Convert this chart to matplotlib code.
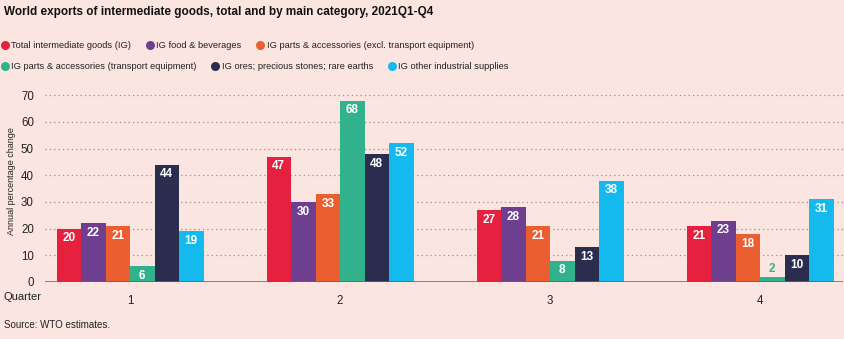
import numpy as np
import matplotlib.pyplot as plt
from matplotlib.lines import Line2D

# Data
quarters = ['1', '2', '3', '4']
series_names = [
    'Total intermediate goods (IG)',
    'IG food & beverages',
    'IG parts & accessories (excl. transport equipment)',
    'IG parts & accessories (transport equipment)',
    'IG ores; precious stones; rare earths',
    'IG other industrial supplies',
]
total_ig = [20, 47, 27, 21]
food_bev = [22, 30, 28, 23]
parts_excl = [21, 33, 21, 18]
parts_transport = [6, 68, 8, 2]
ores = [44, 48, 13, 10]
other_supplies = [19, 52, 38, 31]

colors = ['#E6213F', '#6E3F8F', '#EB5E30', '#32B18D', '#2B2D4F', '#14B9EE']
bg = '#FBE5E0'

plt.rcParams['font.family'] = ['Liberation Sans', 'DejaVu Sans']

fig = plt.figure(figsize=(8.45, 3.39), dpi=100, facecolor=bg)
ax = fig.add_axes([45 / 845, 1 - 282 / 339, 798 / 845, 188 / 339], facecolor=bg)

all_series = [total_ig, food_bev, parts_excl, parts_transport, ores, other_supplies]
x = np.arange(len(quarters))
n = len(all_series)
width = 0.7 / n

for i, (vals, col) in enumerate(zip(all_series, colors)):
    pos = x + (i - (n - 1) / 2) * width
    ax.bar(pos, vals, width=width, color=col, zorder=3)
    for px, v in zip(pos, vals):
        if v >= 5:
            ax.annotate(f'{v}', (px, v), xytext=(0, -7), textcoords='offset points',
                        ha='center', va='center', color='white', fontsize=8.5,
                        fontweight='bold', zorder=4)
        else:
            ax.annotate(f'{v}', (px, v), xytext=(0, 5.5), textcoords='offset points',
                        ha='center', va='center', color=col, fontsize=8.5,
                        fontweight='bold', zorder=4)

ax.set_xlim(-0.405, 3.395)
ax.set_ylim(0, 70.5)
ax.set_yticks(range(0, 71, 10))
ax.set_xticks(x)
ax.set_xticklabels(quarters)
ax.tick_params(axis='both', length=0, labelsize=8.3, colors='#222222')
ax.tick_params(axis='x', pad=9)
ax.tick_params(axis='y', pad=8)
ax.grid(axis='y', linestyle=(0, (1, 2.5)), color='#9A8F8C', linewidth=0.9, zorder=1)
ax.axhline(0, color='#6B5F5C', linewidth=1.8, zorder=5)
for s in ax.spines.values():
    s.set_visible(False)

fig.text(12 / 845, 1 - 181 / 339, 'Annual percentage change', rotation=90,
         ha='center', va='center', fontsize=6.5, color='#222222')
fig.text(4 / 845, 1 - 297 / 339, 'Quarter', ha='left', va='center', fontsize=8, color='#222222')
fig.text(4 / 845, 1 - 325 / 339, 'Source: WTO estimates.', ha='left', va='center',
         fontsize=7, color='#222222')
fig.text(4 / 845, 1 - 12 / 339, 'World exports of intermediate goods, total and by main category, 2021Q1-Q4',
         ha='left', va='center', fontsize=8.5, fontweight='bold', color='#111111')

handles = [Line2D([], [], marker='o', linestyle='none', markersize=6.5,
                  markerfacecolor=c, markeredgecolor='none') for c in colors]
leg_kw = dict(loc='upper left', ncol=3, frameon=False, fontsize=6.7,
              handletextpad=0.2, columnspacing=1.5, handlelength=1.0,
              borderaxespad=0, borderpad=0, labelcolor='#222222')
leg1 = fig.legend(handles[:3], series_names[:3], bbox_to_anchor=(0 / 845, 1 - 41 / 339), **leg_kw)
leg2 = fig.legend(handles[3:], series_names[3:], bbox_to_anchor=(0 / 845, 1 - 62 / 339), **leg_kw)

fig.savefig('out.png', dpi=100, facecolor=bg)
